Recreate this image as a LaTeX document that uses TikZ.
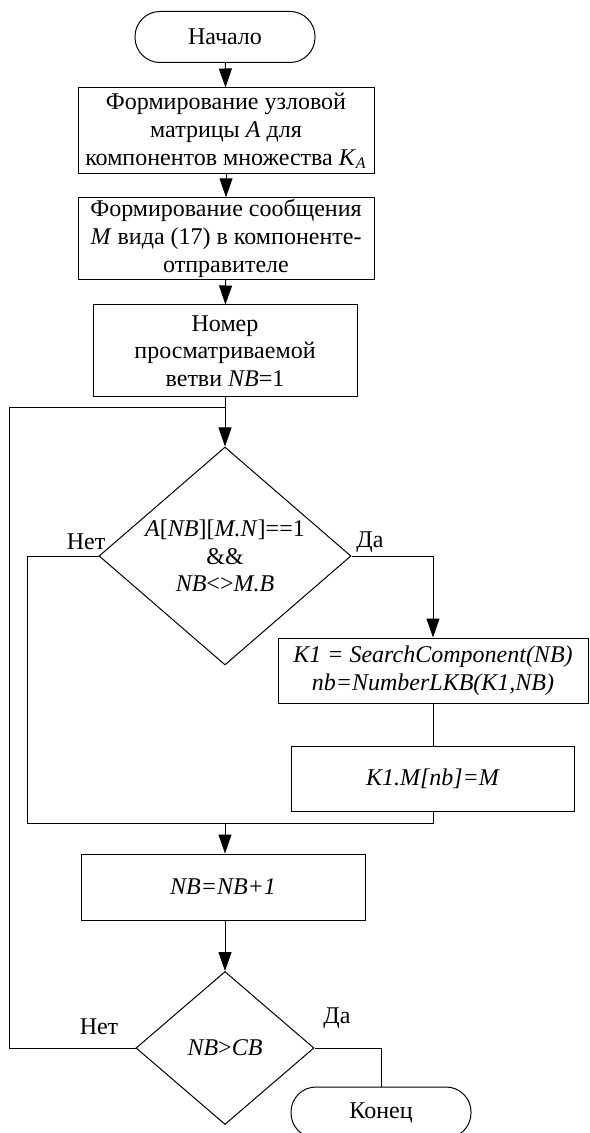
\documentclass[tikz,border=0pt]{standalone}
\usepackage{fontspec}
\setmainfont{Liberation Serif}
\usetikzlibrary{shapes.geometric, arrows.meta}

\begin{document}
\begin{tikzpicture}[x=0.5pt, y=-0.5pt, line width=0.5pt,
    >={Triangle[length=9.5pt, width=6.5pt]},
    every node/.style={font=\fontsize{12}{13.8}\selectfont},
    block/.style={draw, align=center, inner sep=1pt},
    term/.style={draw, rounded corners=12.5pt, minimum width=90pt, minimum height=25.5pt},
    decision/.style={draw, diamond, inner sep=0pt}]
  \useasboundingbox (0,0) rectangle (589,1133);

  \node[term] (start) at (225,37) {Начало};
  \node[block, minimum width=148pt, minimum height=43pt] (form) at (226,131)
    {Формирование узловой\\матрицы \textit{A} для\\компонентов множества \textit{K}\textsubscript{\textit{A}}};
  \node[block, minimum width=148pt, minimum height=40pt] (msg) at (226,238.5)
    {Формирование сообщения\\\textit{M} вида (17) в компоненте-\\отправителе};
  \node[block, minimum width=132pt, minimum height=46pt] (init) at (225,351)
    {Номер\\просматриваемой\\ветви \textit{NB}=1};

  \node[decision, minimum width=126pt, minimum height=109pt,
    label={[align=center]center:\textit{A}[\textit{NB}][\textit{M.N}]==1\\\&\&\\\textit{NB}<>\textit{M.B}}]
    (cond) at (225,556) {};
  \node (no1) at (86,542) {Нет};
  \node (yes1) at (370,542) {Да};

  \node[block, minimum width=155pt, minimum height=32.5pt] (search) at (433,670.5)
    {\textit{K1 = SearchComponent(NB)}\\\textit{nb=NumberLKB(K1,NB)}};
  \node[block, minimum width=141.5pt, minimum height=32.5pt] (assign) at (433,778.5)
    {\textit{K1.M[nb]=M}};
  \node[block, minimum width=142pt, minimum height=33pt] (inc) at (223,887)
    {\textit{NB=NB+1}};

  \node[decision, minimum width=89pt, minimum height=76.5pt,
    label={center:\textit{NB}>\textit{CB}}] (check) at (225,1048) {};
  \node (no2) at (99,1027) {Нет};
  \node (yes2) at (337,1018) {Да};
  \node[term] (stop) at (381,1112.5) {Конец};

  \coordinate (loop) at (225,408);
  \coordinate (loopleft) at (9,408);
  \coordinate (merge) at (225,823);
  \coordinate (mergeleft) at (27,823);

  \draw[->] (start) -- (form);
  \draw[->] (form) -- (msg);
  \draw[->] (msg) -- (init);
  \draw (init) -- (loop);
  \draw[->] (loop) -- (cond);
  \draw[->] (cond.east) -| (search.north);
  \draw (search) -- (assign);
  \draw (assign.south) |- (merge);
  \draw (cond.west) -| (mergeleft) -- (merge);
  \draw[->] (merge) -- (merge |- inc.north);
  \draw[->] (inc.south -| check) -- (check);
  \draw (check.west) -| (loopleft) -- (loop);
  \draw (check.east) -| (stop.north);
\end{tikzpicture}
\end{document}
